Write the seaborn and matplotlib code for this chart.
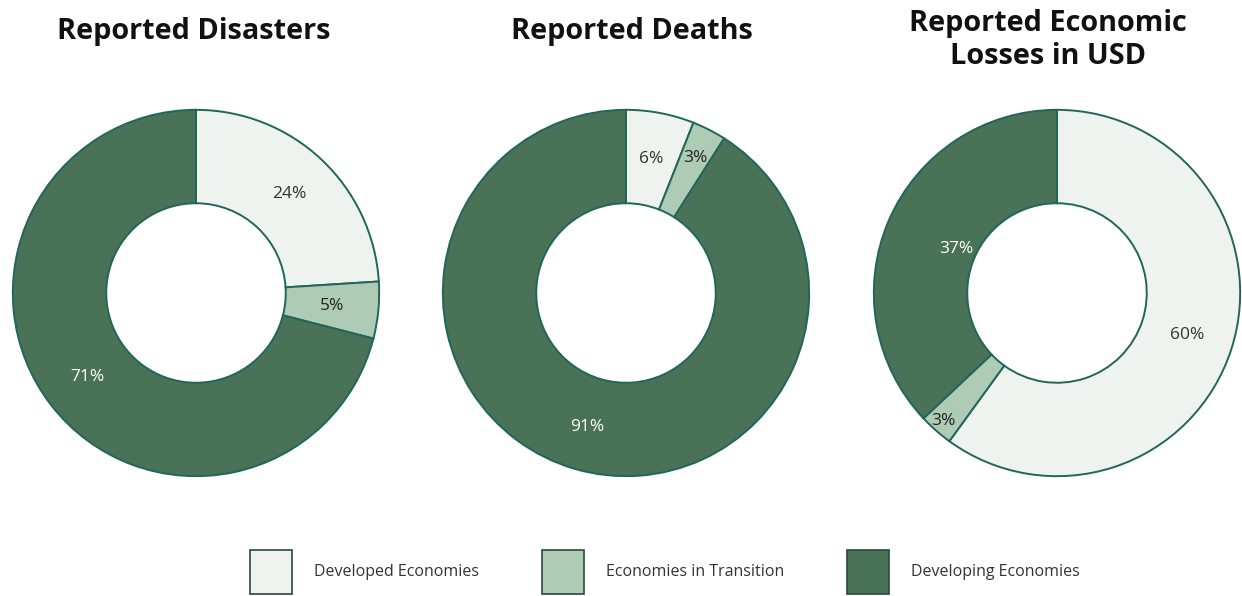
import matplotlib
matplotlib.use("Agg")
import matplotlib.pyplot as plt
from matplotlib import font_manager
from matplotlib.patches import Patch
import numpy as np
import seaborn as sns

# Shares of each economy group (percent)
groups = ["Developed Economies", "Economies in Transition", "Developing Economies"]
titles = ["Reported Disasters", "Reported Deaths", "Reported Economic\nLosses in USD"]
disasters = [24, 5, 71]
deaths = [6, 3, 91]
losses = [60, 3, 37]

sns.set_theme(style="white")

installed = {f.name for f in font_manager.fontManager.ttflist}
body_font = "Open Sans" if "Open Sans" in installed else "DejaVu Sans"
plt.rcParams["font.family"] = [body_font, "DejaVu Sans"]

colors = ["#eef3ef", "#aecbb6", "#4a7257"]
edge = "#21665a"
text_colors = ["#333333", "#222222", "#ffffff"]
inner = 0.49

# radial placement of each percentage label, as fraction of the outer radius
label_radius = [
    [0.745, 0.745, 0.75],
    [0.745, 0.83, 0.76],
    [0.745, 0.935, 0.60],
]

fig = plt.figure(figsize=(12.42, 5.96), dpi=100)
centers_x = [196, 626, 1057]
title_x = [194, 632, 1048]
R = 185
W, H = 1242, 596
cy = 303

for i, (vals, title) in enumerate(zip([disasters, deaths, losses], titles)):
    ax = fig.add_axes([(centers_x[i] - R) / W, (cy - R) / H, 2 * R / W, 2 * R / H])
    wedges, _ = ax.pie(vals, colors=colors, startangle=90, counterclock=False,
                       radius=1.0,
                       wedgeprops=dict(width=1 - inner, edgecolor=edge, linewidth=1.4))
    for j, w in enumerate(wedges):
        ang = np.deg2rad((w.theta1 + w.theta2) / 2)
        r = label_radius[i][j]
        ax.text(r * np.cos(ang), r * np.sin(ang), f"{vals[j]}%", ha="center", va="center",
                fontsize=12.5, color=text_colors[j])
    ax.set_xlim(-1.01, 1.01)
    ax.set_ylim(-1.01, 1.01)
    ax.set_aspect("equal")
    ax.axis("off")
    ty = 31 / H if "\n" not in title else 40 / H
    fig.text(title_x[i] / W, 1 - ty, title, ha="center", va="center",
             fontsize=20.8, fontweight="bold", linespacing=1.2, color="#111111")

handles = [Patch(facecolor=c, edgecolor="#2a4a3a", linewidth=1.2) for c in colors]
fig.legend(handles, groups, loc="center", bbox_to_anchor=(665 / W, 1 - 572 / H), ncol=3,
           frameon=False, fontsize=11.5, handlelength=2.63, handleheight=3.86,
           handletextpad=1.4, columnspacing=3.92, labelcolor="#333333")

fig.savefig("out.png", dpi=100, facecolor="white")
